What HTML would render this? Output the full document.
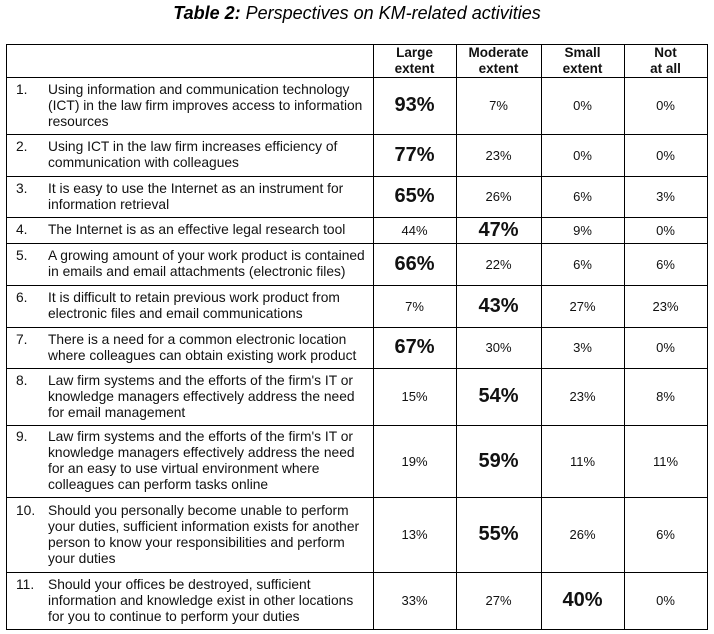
<!DOCTYPE html>
<html><head><meta charset="utf-8"><style>
body{margin:0;background:#fff;width:714px;height:634px;position:relative;overflow:hidden;font-family:"Liberation Sans",Arial,sans-serif;color:#111}
.t{position:absolute;left:0;width:714px;top:3px;text-align:center;font-size:18px;font-style:italic;color:#000}
.c{position:absolute;display:flex;align-items:center;justify-content:center;text-align:center;font-size:13px;box-sizing:border-box}
.tx{position:absolute;font-size:13.8px;line-height:16px;display:flex;align-items:center;box-sizing:border-box;white-space:nowrap}
.row{display:flex;align-items:flex-start}
.num{display:inline-block;width:32px}
.b{font-weight:bold;font-size:20px}
.h{font-weight:bold;font-size:13.5px;line-height:16px;align-items:flex-start;padding-top:1px}
.ln{position:absolute;background:#000}
</style></head><body>
<div class="t"><b>Table 2:</b> Perspectives on KM-related activities</div>
<script>
const questions=[
"Using information and communication technology|(ICT) in the law firm improves access to information|resources",
"Using ICT in the law firm increases efficiency of|communication with colleagues",
"It is easy to use the Internet as an instrument for|information retrieval",
"The Internet is as an effective legal research tool",
"A growing amount of your work product is contained|in emails and email attachments (electronic files)",
"It is difficult to retain previous work product from|electronic files and email communications",
"There is a need for a common electronic location|where colleagues can obtain existing work product",
"Law firm systems and the efforts of the firm's IT or|knowledge managers effectively address the need|for email management",
"Law firm systems and the efforts of the firm's IT or|knowledge managers effectively address the need|for an easy to use virtual environment where|colleagues can perform tasks online",
"Should you personally become unable to perform|your duties, sufficient information exists for another|person to know your responsibilities and perform|your duties",
"Should your offices be destroyed, sufficient|information and knowledge exist in other locations|for you to continue to perform your duties"];
const headers=["Large<br>extent","Moderate<br>extent","Small<br>extent","Not<br>at all"];
const large=[93,77,65,44,66,7,67,15,19,13,33];
const moderate=[7,23,26,47,22,43,30,54,59,55,27];
const small=[0,0,6,9,6,27,3,23,11,26,40];
const notAtAll=[0,0,3,0,6,23,0,8,11,6,0];
const ys=[44,77,134,176,217,243,285,327,368,425,497,572,629];
const xs=[6,373,456,541,624,707];
const root=document.body;
function add(cls,l,t,w,h,html,name){const d=document.createElement('div');d.className=cls;d.style.left=l+'px';d.style.top=t+'px';if(w!=null)d.style.width=w+'px';if(h!=null)d.style.height=h+'px';d.innerHTML=html;


root.appendChild(d);return d;}
ys.forEach((y)=>{add('ln',xs[0],y,xs[5]-xs[0]+1,1,'','row-border');});
xs.forEach((x)=>{add('ln',x,ys[0],1,ys[12]-ys[0]+1,'','col-border');});
headers.forEach((h,j)=>{add('c h',xs[j+1],ys[0],xs[j+2]-xs[j+1],ys[1]-ys[0],h,'header-'+j);});
const series=[large,moderate,small,notAtAll];
questions.forEach((q,i)=>{
 const top=ys[i+1],h=ys[i+2]-ys[i+1];
 add('tx',16,top,357,h,'<div class="row"><span class="num">'+(i+1)+'.</span><span>'+q.split('|').join('<br>')+'</span></div>','question-'+(i+1));
 const vals=series.map(s=>s[i]);const mx=Math.max(...vals);
 vals.forEach((v,j)=>{add('c'+(v===mx?' b':''),xs[j+1],top,xs[j+2]-xs[j+1],h,v+'%','value-r'+(i+1)+'-c'+(j+1));});
});
</script>
</body></html>
